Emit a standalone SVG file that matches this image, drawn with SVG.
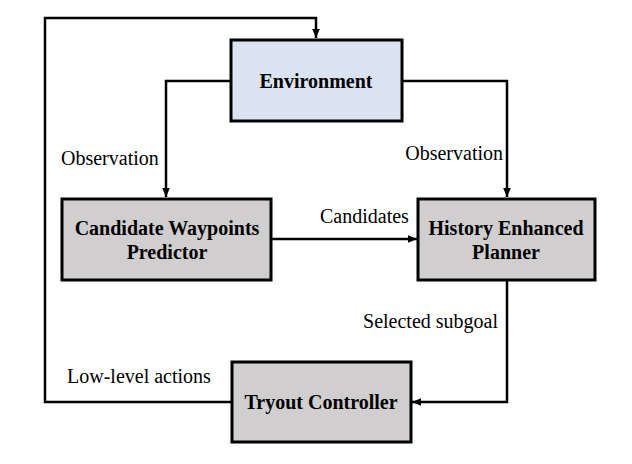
<svg xmlns="http://www.w3.org/2000/svg" width="632" height="464" viewBox="0 0 632 464">
<style>
.box{stroke:#000;stroke-width:3}
.env{fill:#dae3f0}
.gray{fill:#d0cece}
.bt{font-family:"Liberation Serif","Times New Roman",serif;font-weight:bold;font-size:20px;fill:#000;text-anchor:middle}
.lt{font-family:"Liberation Serif","Times New Roman",serif;font-size:20px;fill:#000}
.ln{fill:none;stroke:#000;stroke-width:2.5}
</style>
<defs>
<marker id="ah" markerUnits="userSpaceOnUse" markerWidth="10" markerHeight="10" viewBox="0 0 10 10" refX="9" refY="5" orient="auto">
<path d="M0,1.2 L9,5 L0,8.8 Z" fill="#000"/>
</marker>
</defs>
<rect width="632" height="464" fill="#fff"/>
<g id="connectors">
<polyline class="ln" points="231,402 45,402 45,18 316,18 316,38" marker-end="url(#ah)"/>
<polyline class="ln" points="230,81 166,81 166,197" marker-end="url(#ah)"/>
<polyline class="ln" points="402,81 507,81 507,197" marker-end="url(#ah)"/>
<line class="ln" x1="271" y1="239" x2="417" y2="239" marker-end="url(#ah)"/>
<polyline class="ln" points="507,281 507,402 412,402" marker-end="url(#ah)"/>
<text class="lt" x="61" y="165">Observation</text>
<text class="lt" x="503" y="160" text-anchor="end">Observation</text>
<text class="lt" x="320" y="223">Candidates</text>
<text class="lt" x="498" y="328" text-anchor="end">Selected subgoal</text>
<text class="lt" x="67" y="383">Low-level actions</text>
</g>
<g id="environment">
<rect class="box env" x="231" y="40" width="171" height="81"/>
<text class="bt" x="316" y="88">Environment</text>
</g>
<g id="cwp">
<rect class="box gray" x="62" y="199" width="209" height="81"/>
<text class="bt" x="167" y="235">Candidate Waypoints</text>
<text class="bt" x="167" y="259">Predictor</text>
</g>
<g id="hep">
<rect class="box gray" x="418" y="199" width="177" height="81"/>
<text class="bt" x="506" y="235">History Enhanced</text>
<text class="bt" x="506" y="259">Planner</text>
</g>
<g id="tryout">
<rect class="box gray" x="232" y="362" width="179" height="80"/>
<text class="bt" x="321" y="409">Tryout Controller</text>
</g>
</svg>
